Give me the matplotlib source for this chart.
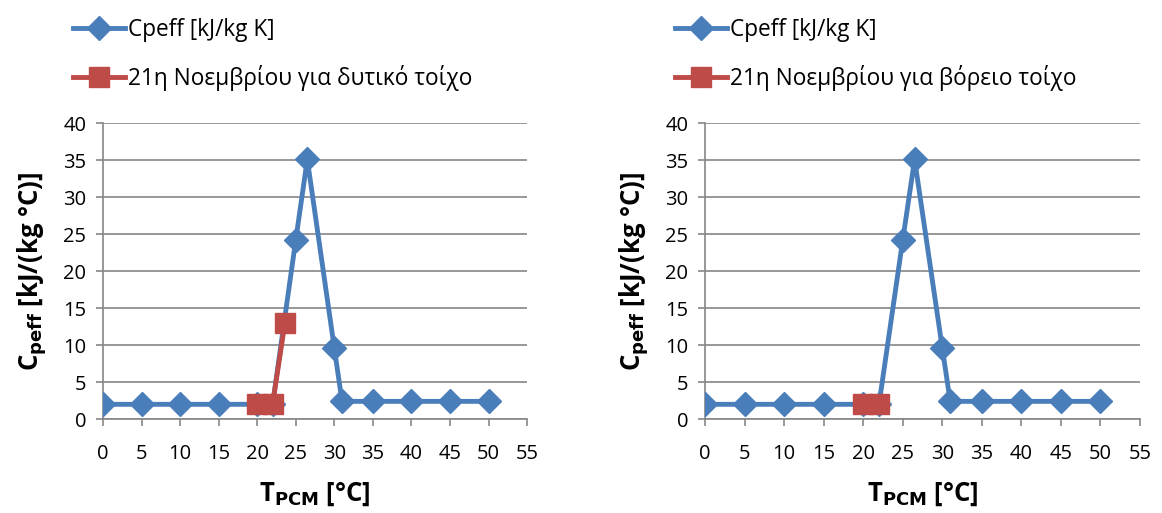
import matplotlib.pyplot as plt

plt.rcParams['font.family'] = ['Open Sans', 'DejaVu Sans']

# Cpeff curve (same for both walls)
t_cp = [0, 5, 10, 15, 20, 22, 25, 26.5, 30, 31, 35, 40, 45, 50]
cp = [2.0, 2.0, 2.0, 2.0, 2.0, 2.0, 24.2, 35.1, 9.6, 2.4, 2.4, 2.4, 2.4, 2.4]

# 21 November, west wall
t_west = [20, 22, 23.6]
cp_west = [2.0, 2.0, 13.0]

# 21 November, north wall
t_north = [20, 22]
cp_north = [2.0, 2.0]

labels = ['Cpeff [kJ/kg K]', '21η Νοεμβρίου για δυτικό τοίχο', '21η Νοεμβρίου για βόρειο τοίχο']
xticks = list(range(0, 60, 5))
yticks = list(range(0, 45, 5))

blue = '#4A7EBB'
red = '#BE4B48'
grey = '#868686'

fig = plt.figure(figsize=(11.62, 5.13), dpi=100)
ax1 = fig.add_axes([0.0886, 0.183, 0.365, 0.577])
ax2 = fig.add_axes([0.6067, 0.183, 0.3744, 0.577])

for ax, tx, ty, lab, legx in [(ax1, t_west, cp_west, labels[1], 0.045),
                              (ax2, t_north, cp_north, labels[2], 0.563)]:
    l1, = ax.plot(t_cp, cp, color=blue, lw=3.5, marker='D', markersize=12.5, zorder=3)
    l2, = ax.plot(tx, ty, color=red, lw=3.5, marker='s', markersize=14, zorder=4)
    ax.set_xlim(0, 55)
    ax.set_ylim(0, 40)
    ax.set_xticks(xticks)
    ax.set_yticks(yticks)
    ax.tick_params(labelsize=14.5, color=grey, length=5, width=1.2)
    ax.tick_params(axis='x', pad=13)
    ax.tick_params(axis='y', pad=7)
    ax.yaxis.grid(True, color=grey, lw=1.2)
    ax.set_axisbelow(True)
    for s in ['top', 'right']:
        ax.spines[s].set_visible(False)
    for s in ['left', 'bottom']:
        ax.spines[s].set_color(grey)
        ax.spines[s].set_linewidth(1.2)
    ax.set_xlabel(r'T$_{\mathbf{PCM}}$ [°C]', fontsize=18.5, fontweight='bold', labelpad=12)
    ax.set_ylabel(r'C$_{\mathbf{peff}}$ [kJ/(kg °C)]', fontsize=18.5, fontweight='bold', labelpad=10)
    fig.legend([l1, l2], [labels[0], lab], loc='upper left', bbox_to_anchor=(legx, 1.005),
               frameon=False, fontsize=16.3, handlelength=2.3, labelspacing=1.02,
               handletextpad=0.15)

fig.savefig('out.png', dpi=100)
